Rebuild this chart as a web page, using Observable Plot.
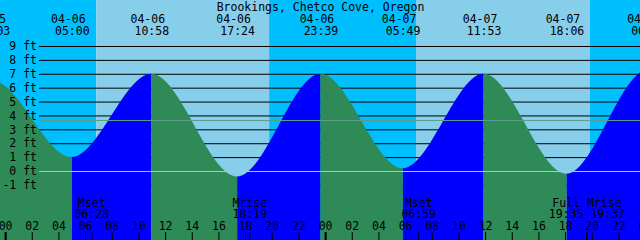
<!DOCTYPE html>
<html><head><meta charset="utf-8">
<script src="https://cdn.jsdelivr.net/npm/d3@7"></script>
<script src="https://cdn.jsdelivr.net/npm/@observablehq/plot@0.6"></script>
<style>html,body{margin:0;padding:0;background:#fff;overflow:hidden}</style>
</head><body><div id="chart"></div>
<script>
// ---- data ----
const title = "Brookings, Chetco Cove, Oregon";
const viewStart = "2020-04-05 23:37";
const viewEnd = "2020-04-07 23:37";
// high / low tides (first and last are off-screen estimates that only shape the curve ends)
const tideTimes = ["2020-04-05 16:40","2020-04-05 23:03","2020-04-06 05:00","2020-04-06 10:58","2020-04-06 17:24","2020-04-06 23:39","2020-04-07 05:49","2020-04-07 11:53","2020-04-07 18:06","2020-04-08 00:13","2020-04-08 06:35"];
const tideLevels = [0.0, 6.5, 1.0, 7.0, -0.4, 7.0, 0.2, 7.0, -0.2, 7.3, 0.7];
const sunrises = ["2020-04-06 06:50","2020-04-07 06:49"];
const sunsets = ["2020-04-06 19:48","2020-04-07 19:52"];
const moonNames = ["Mset","Mrise","Mset","Full","Mrise"];
const moonTimes = ["2020-04-06 06:28","2020-04-06 18:19","2020-04-07 06:59","2020-04-07 19:35","2020-04-07 19:37"];
const levelTicks = [-1,0,1,2,3,4,5,6,7,8,9];
const levelUnit = "ft";
const meanLevel = 3.67;
const datumLevel = 0;

// ---- colours ----
const nightSky = "#00BFFF", daySky = "#87CEEB";
const risingColor = "#0000FF", fallingColor = "#2E8B57";
const mslColor = "#5a9f8c", datumColor = "#8fd0e6";
const font = "DejaVu Sans Mono";

const parse = d3.utcParse("%Y-%m-%d %H:%M");
const t0 = parse(viewStart), t1 = parse(viewEnd);
const tide = tideTimes.map((t,i)=>({time: parse(t), level: tideLevels[i]}));
// only label events whose text reaches into the picture
const hourMs = 3600000;
const tideLabeled = tide.filter(d => d.time >= t0 - 3*hourMs && d.time <= +t1 + 3*hourMs);

// sky bands
const edges = [t0];
sunrises.forEach((r,i)=>{edges.push(parse(r)); edges.push(parse(sunsets[i]));});
edges.push(t1);
const sky = [];
for (let i=0;i<edges.length-1;i++) sky.push({start: edges[i], end: edges[i+1], fill: i%2===0 ? nightSky : daySky});

// rising/falling intervals
const rising = [], falling = [];
for (let i=0;i<tide.length-1;i++) {
  const seg = [tide[i].time, tide[i+1].time];
  (tide[i+1].level > tide[i].level ? rising : falling).push(seg);
}

// moon events, grouped when close together
const moon = moonTimes.map((t,i)=>({time: parse(t), name: moonNames[i], label: t.slice(11)}));
const moonGroups = [];
moon.forEach(m=>{
  const g = moonGroups[moonGroups.length-1];
  if (g && (m.time - g.items[g.items.length-1].time) < 10*60000) g.items.push(m);
  else moonGroups.push({items:[m]});
});
moonGroups.forEach(g=>{
  g.time = new Date(d3.mean(g.items, d=>+d.time));
  g.name = g.items.map(d=>d.name).join(" ");
  g.label = g.items.map(d=>d.label).join(" ");
});

const hourTicks = d3.utcHour.every(2).range(t0, d3.utcHour.offset(t1, 1));
const midnights = hourTicks.filter(d=>d.getUTCHours()===0);
const fmtDate = d3.utcFormat("%m-%d"), fmtTime = d3.utcFormat("%H:%M"), fmtHour = d3.utcFormat("%H");

const txt = {fontFamily: font, fontSize: 11.5, fill: "black"};
const bottomLevel = () => -8;

const chart = Plot.plot({
  width: 640, height: 240, margin: 0,
  x: {type: "utc", domain: [t0, t1], axis: null},
  y: {domain: [0, 9], range: [171, 46], axis: null},
  color: {type: "identity"},
  style: {fontFamily: font, fontSize: "11.5px", background: "white", overflow: "visible"},
  marks: [
    Plot.rect(sky, {x1: "start", x2: "end", fill: "fill"}),
    Plot.ruleY(levelTicks, {stroke: "black", insetLeft: 39}),
    Plot.areaY(tide, {x: "time", y1: bottomLevel, y2: "level", fill: risingColor, curve: "monotone-x"}),
    Plot.areaY(tide, {x: "time", y1: bottomLevel, y2: "level", fill: fallingColor, curve: "monotone-x"}),
    Plot.ruleY([meanLevel], {stroke: mslColor, insetLeft: 39}),
    Plot.ruleY([datumLevel], {stroke: datumColor, insetLeft: 39}),
    Plot.text(levelTicks, {y: d=>d, text: d=>`${d} ${levelUnit}`, frameAnchor: "left", dx: 36.5, textAnchor: "end", ...txt}),
    Plot.text([title], {frameAnchor: "top", lineAnchor: "bottom", dy: 10, ...txt}),
    Plot.text(tideLabeled, {x: "time", text: d=>fmtDate(d.time), frameAnchor: "top", lineAnchor: "bottom", dy: 22, dx: -4, ...txt}),
    Plot.text(tideLabeled, {x: "time", text: d=>fmtTime(d.time), frameAnchor: "top", lineAnchor: "bottom", dy: 34, ...txt}),
    Plot.text(moonGroups, {x: "time", text: "name", frameAnchor: "top", lineAnchor: "bottom", dy: 206, ...txt}),
    Plot.text(moonGroups, {x: "time", text: "label", frameAnchor: "top", lineAnchor: "bottom", dy: 217.7, ...txt}),
    Plot.text(hourTicks, {x: d=>d, text: d=>fmtHour(d), frameAnchor: "top", lineAnchor: "bottom", dy: 229, ...txt}),
    Plot.tickX(hourTicks, {x: d=>d, stroke: "black", insetTop: 232}),
    Plot.tickX(midnights, {x: d=>d, stroke: "black", strokeWidth: 2, insetTop: 232}),
    Plot.tickX(moon, {x: "time", stroke: "black", insetTop: 232})
  ]
});
document.getElementById("chart").appendChild(chart);

// restrict each water colour to its own rising / falling intervals
const xs = chart.scale("x");
const ns = "http://www.w3.org/2000/svg";
const defs = document.createElementNS(ns, "defs");
chart.insertBefore(defs, chart.firstChild);
function clipWater(color, intervals, id) {
  const cp = document.createElementNS(ns, "clipPath");
  cp.setAttribute("id", id);
  intervals.forEach(([a,b])=>{
    const r = document.createElementNS(ns, "rect");
    const xa = xs.apply(a), xb = xs.apply(b);
    r.setAttribute("x", xa); r.setAttribute("width", xb - xa);
    r.setAttribute("y", -10); r.setAttribute("height", 260);
    cp.appendChild(r);
  });
  defs.appendChild(cp);
  const g = Array.from(chart.querySelectorAll("g")).find(e => (e.getAttribute("fill")||"").toLowerCase() === color.toLowerCase() && e.querySelector("path"));
  if (g) g.setAttribute("clip-path", `url(#${id})`);
}
clipWater(risingColor, rising, "clipRise");
clipWater(fallingColor, falling, "clipFall");
</script>
</body></html>
